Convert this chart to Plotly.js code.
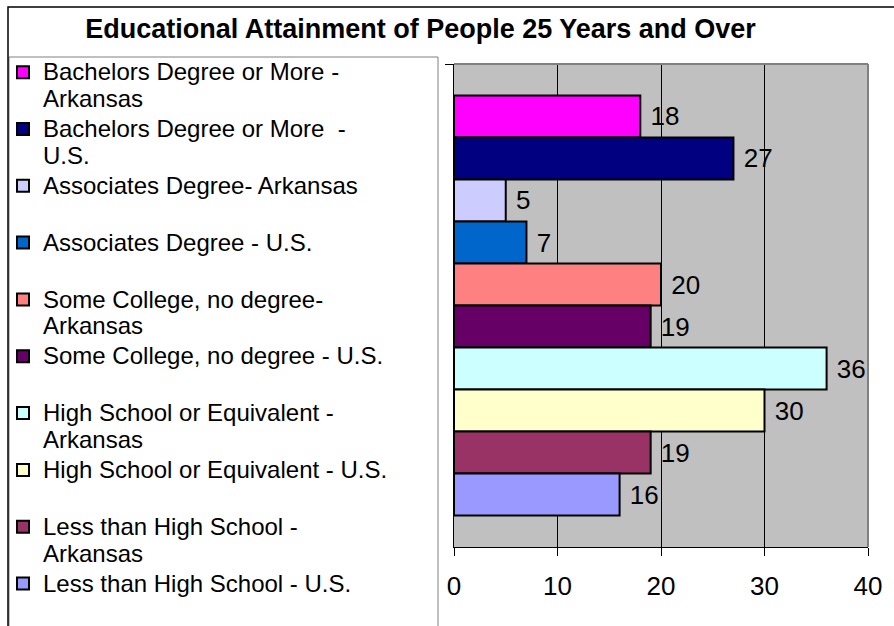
<!DOCTYPE html>
<html>
<head>
<meta charset="utf-8">
<script src="https://cdn.plot.ly/plotly-3.0.1.min.js"></script>
<style>
  html, body { margin: 0; padding: 0; background: #ffffff; }
  #chart { width: 894px; height: 626px; }
</style>
</head>
<body>
<div id="chart"></div>
<script>
// ---- Data ----
const groupLabel = ['People 25 Years and Over'];
const seriesNames = [
  'Bachelors Degree or More -\nArkansas',
  'Bachelors Degree or More  -\nU.S.',
  'Associates Degree- Arkansas',
  'Associates Degree - U.S.',
  'Some College, no degree-\nArkansas',
  'Some College, no degree - U.S.',
  'High School or Equivalent -\nArkansas',
  'High School or Equivalent - U.S.',
  'Less than High School -\nArkansas',
  'Less than High School - U.S.'
];
const seriesValues = [18, 27, 5, 7, 20, 19, 36, 30, 19, 16];
const xTickValues = [0, 10, 20, 30, 40];

// ---- Styles ----
const seriesColors = ['#FF00FF', '#000080', '#CCCCFF', '#0066CC', '#FF8080',
                      '#660066', '#CCFFFF', '#FFFFCC', '#993366', '#9999FF'];
const FONT = 'Liberation Sans, Arial, Helvetica, sans-serif';
const TXT = 26;      // value labels and tick labels
const LEG_TXT = 24;  // legend text

function legendName(name) {
  const lines = name.split('\n');
  if (lines.length < 2) lines.push('\u00a0');
  return lines.map(l => '<span style="font-size:' + LEG_TXT + 'px">' + l + '</span>').join('<br>');
}

const traces = seriesNames.map((name, i) => ({
  type: 'bar',
  orientation: 'h',
  name: legendName(name),
  y: groupLabel,
  x: [seriesValues[i]],
  marker: { color: seriesColors[i], line: { color: '#000000', width: 2 } },
  texttemplate: '\u00a0%{x}',
  textposition: 'outside',
  textfont: { family: FONT, size: TXT, color: '#000000' },
  cliponaxis: false,
  hoverinfo: 'none'
}));

// pixel helpers (figure 894x626, margins l=454 r=26 t=6 b=6)
const L = 454, R = 26, T = 6, B = 6, W = 894, H = 626;
const gw = W - L - R, gh = H - T - B;
const px = v => (v - L) / gw;
const py = v => (H - B - v) / gh;

const layout = {
  width: W, height: H,
  margin: { l: L, r: R, t: T, b: B, autoexpand: false, pad: 0 },
  paper_bgcolor: '#ffffff',
  plot_bgcolor: '#C0C0C0',
  font: { family: FONT, color: '#000000' },
  barmode: 'group',
  bargap: 0.1304,
  bargroupgap: 0,
  showlegend: true,
  title: {
    text: '<b>Educational Attainment of People 25 Years and Over</b>',
    font: { family: FONT, size: 27, color: '#000000' },
    xref: 'container', x: 420.5 / W, xanchor: 'center',
    yref: 'container', y: 1 - 29 / H, yanchor: 'middle'
  },
  legend: {
    xref: 'paper', x: px(3), xanchor: 'left',
    yref: 'paper', y: py(52.2), yanchor: 'top',
    valign: 'top',
    traceorder: 'normal',
    font: { family: FONT, size: 20.7, color: '#000000' },
    bgcolor: 'rgba(0,0,0,0)',
    borderwidth: 0,
    itemwidth: 30,
    tracegroupgap: 0
  },
  xaxis: {
    range: [0, 40],
    tickvals: xTickValues,
    ticks: 'outside', ticklen: 8, tickwidth: 1, tickcolor: '#000000',
    ticklabelstandoff: 8,
    tickfont: { family: FONT, size: TXT, color: '#000000' },
    showgrid: true, gridcolor: '#000000', gridwidth: 1,
    showline: true, linecolor: '#000000', linewidth: 1,
    zeroline: false, fixedrange: true
  },
  yaxis: {
    type: 'category',
    domain: [py(547), py(64)],
    range: [0.5, -0.5],
    showticklabels: false,
    ticks: 'outside', tickson: 'boundaries', ticklen: 8, tickwidth: 1, tickcolor: '#000000',
    showgrid: false,
    showline: true, linecolor: '#000000', linewidth: 1,
    zeroline: false, fixedrange: true
  },
  shapes: [
    // outer chart frame
    { type: 'rect', xref: 'paper', yref: 'paper', x0: px(8), x1: px(910), y0: py(700), y1: py(7),
      line: { color: '#000000', width: 1.5 }, fillcolor: 'rgba(0,0,0,0)', layer: 'above' },
    // legend box
    { type: 'rect', xref: 'paper', yref: 'paper', x0: px(9), x1: px(438), y0: py(700), y1: py(57),
      line: { color: '#808080', width: 1 }, fillcolor: 'rgba(0,0,0,0)', layer: 'below' },
    // plot area top and right edges
    { type: 'line', xref: 'x domain', yref: 'y domain', x0: 0, x1: 1, y0: 1, y1: 1,
      line: { color: '#808080', width: 2 }, layer: 'above' },
    { type: 'line', xref: 'x domain', yref: 'y domain', x0: 1, x1: 1, y0: 0, y1: 1,
      line: { color: '#808080', width: 2 }, layer: 'above' }
  ]
};

Plotly.newPlot('chart', traces, layout, { staticPlot: true, displayModeBar: false });
</script>
</body>
</html>
